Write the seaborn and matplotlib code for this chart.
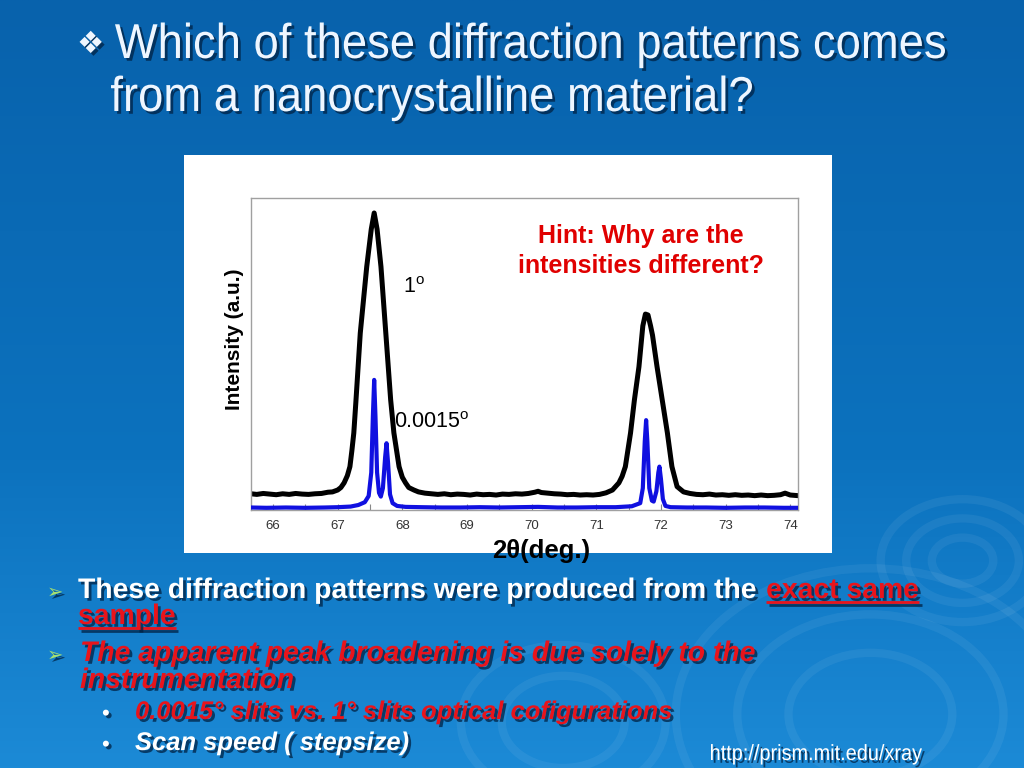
import numpy as np
import pandas as pd
import matplotlib
matplotlib.use("Agg")
import matplotlib.pyplot as plt
import matplotlib.patheffects as pe
import matplotlib.transforms as mtransforms
from matplotlib.patches import Rectangle, Circle, PathPatch
from matplotlib.textpath import TextPath
from matplotlib.font_manager import FontProperties
from matplotlib.ticker import MultipleLocator
from matplotlib import font_manager
import seaborn as sns

# ---------------- data ----------------
black_x = [65.66, 65.75, 65.85, 65.95, 66.05, 66.15, 66.25, 66.35, 66.45, 66.55, 66.65, 66.75, 66.85, 66.92,
           67.00, 67.05, 67.10, 67.15, 67.19, 67.22, 67.25, 67.28, 67.35, 67.45, 67.52, 67.565, 67.61, 67.67,
           67.745, 67.82, 67.87, 67.95, 68.00, 68.05, 68.10, 68.18, 68.25, 68.35, 68.45, 68.55, 68.65, 68.75,
           68.85, 68.95, 69.05, 69.15, 69.25, 69.35, 69.45, 69.55, 69.65, 69.75, 69.85, 69.95, 70.05, 70.10,
           70.15, 70.25, 70.35, 70.45, 70.55, 70.65, 70.75, 70.85, 70.95, 71.05, 71.15, 71.25, 71.35, 71.40,
           71.45, 71.53, 71.59, 71.66, 71.72, 71.76, 71.80, 71.84, 71.87, 71.94, 72.02, 72.10, 72.17, 72.25,
           72.35, 72.45, 72.55, 72.65, 72.75, 72.85, 72.95, 73.05, 73.15, 73.25, 73.35, 73.45, 73.55, 73.65,
           73.75, 73.85, 73.92, 74.00, 74.12]
black_y = [0.052, 0.050, 0.053, 0.051, 0.049, 0.052, 0.050, 0.053, 0.051, 0.050, 0.052, 0.053, 0.057, 0.058,
           0.064, 0.072, 0.087, 0.110, 0.139, 0.190, 0.247, 0.340, 0.567, 0.780, 0.900, 0.952, 0.900, 0.780,
           0.567, 0.353, 0.247, 0.139, 0.105, 0.087, 0.072, 0.064, 0.058, 0.054, 0.052, 0.050, 0.052, 0.049,
           0.051, 0.050, 0.048, 0.051, 0.049, 0.050, 0.048, 0.051, 0.050, 0.052, 0.051, 0.053, 0.057, 0.060,
           0.056, 0.054, 0.052, 0.051, 0.049, 0.050, 0.048, 0.049, 0.048, 0.050, 0.055, 0.064, 0.087, 0.108,
           0.139, 0.247, 0.353, 0.459, 0.590, 0.628, 0.625, 0.590, 0.560, 0.459, 0.353, 0.247, 0.139, 0.075,
           0.058, 0.053, 0.050, 0.049, 0.051, 0.048, 0.049, 0.047, 0.049, 0.047, 0.048, 0.046, 0.048, 0.046,
           0.047, 0.049, 0.054, 0.048, 0.046]

blue_x = [65.66, 65.9, 66.2, 66.5, 66.8, 67.0, 67.2, 67.32, 67.42, 67.48, 67.52, 67.545, 67.565, 67.585,
          67.61, 67.64, 67.668, 67.70, 67.735, 67.756, 67.78, 67.81, 67.85, 67.92, 68.05, 68.3, 68.6, 68.9,
          69.2, 69.5, 69.8, 70.1, 70.4, 70.7, 71.0, 71.3, 71.55, 71.68, 71.72, 71.75, 71.771, 71.79, 71.82,
          71.86, 71.888, 71.93, 71.96, 71.977, 72.0, 72.03, 72.07, 72.15, 72.4, 72.7, 73.0, 73.3, 73.6, 73.9,
          74.12]
blue_y = [0.008, 0.007, 0.008, 0.007, 0.008, 0.009, 0.011, 0.016, 0.025, 0.045, 0.120, 0.300, 0.417, 0.300,
          0.120, 0.055, 0.043, 0.070, 0.170, 0.214, 0.150, 0.050, 0.022, 0.013, 0.010, 0.009, 0.008, 0.008,
          0.009, 0.008, 0.009, 0.010, 0.008, 0.008, 0.009, 0.009, 0.012, 0.022, 0.070, 0.220, 0.288, 0.220,
          0.070, 0.030, 0.027, 0.060, 0.120, 0.139, 0.100, 0.035, 0.013, 0.009, 0.008, 0.008, 0.007, 0.008,
          0.008, 0.007, 0.007]

x_tick_values = [66, 67, 68, 69, 70, 71, 72, 73, 74]
x_tick_labels = ["66", "67", "68", "69", "70", "71", "72", "73", "74"]

title_lines = ["Which of these diffraction patterns comes", "from a nanocrystalline material?"]
hint_text = "Hint: Why are the\nintensities different?"

# ---------------- style ----------------
sns.set_theme(style="white")
names = {f.name for f in font_manager.fontManager.ttflist}
SANS = "Liberation Sans" if "Liberation Sans" in names else "DejaVu Sans"
plt.rcParams["font.family"] = [SANS, "DejaVu Sans"]
plt.rcParams["mathtext.fontset"] = "custom"
plt.rcParams["mathtext.rm"] = SANS
plt.rcParams["mathtext.it"] = SANS + ":italic"
plt.rcParams["mathtext.bf"] = SANS + ":bold"

W, H = 1024, 768
fig = plt.figure(figsize=(W / 100, H / 100), dpi=100)


def fx(px):
    return px / W


def fy(py):
    return 1 - py / H


shadow = [pe.SimplePatchShadow(offset=(2, -2), shadow_rgbFace="#002244", alpha=0.75), pe.Normal()]
to_fig = mtransforms.Affine2D().scale(1 / W, 1 / H) + fig.transFigure


def narrow_text(x_px, base_px, s, size_px, color, target_w, weight="normal"):
    """Condensed text (like Arial Narrow) drawn as a horizontally squeezed text path."""
    fp = FontProperties(family=SANS, weight=weight)
    tp = TextPath((0, 0), s, size=size_px, prop=fp)
    ext = tp.get_extents()
    sx = target_w / (ext.x1 - ext.x0)
    tr = mtransforms.Affine2D().translate(-ext.x0, 0).scale(sx, 1).translate(x_px, H - base_px) + to_fig
    fig.add_artist(PathPatch(tp, transform=tr, fc=color, ec="none", lw=0, path_effects=shadow))


# background gradient
bg = fig.add_axes([0, 0, 1, 1], zorder=-10)
t = np.linspace(0, 1, 256)[:, None]
top = np.array([8, 98, 172]) / 255
mid = np.array([12, 114, 190]) / 255
bot = np.array([28, 138, 214]) / 255
grad = np.where(t < 0.6, top + (mid - top) * (t / 0.6), mid + (bot - mid) * ((t - 0.6) / 0.4))
img = np.repeat(grad[:, None, :], 4, axis=1)
bg.imshow(img, extent=[0, 1, 0, 1], aspect="auto", origin="upper")
for (cx, cy, r) in [(0.94, 0.27, 0.03), (0.94, 0.27, 0.055), (0.94, 0.27, 0.08),
                    (0.85, 0.07, 0.08), (0.85, 0.07, 0.13), (0.85, 0.07, 0.19),
                    (0.55, 0.06, 0.06), (0.55, 0.06, 0.10)]:
    bg.add_patch(Circle((cx, cy), r, transform=bg.transAxes, fill=False,
                        ec=(1, 1, 1, 0.06), lw=6))
bg.set_xlim(0, 1)
bg.set_ylim(0, 1)
bg.axis("off")

# white chart box
fig.patches.append(Rectangle((fx(184), fy(553)), fx(832) - fx(184), fy(155) - fy(553),
                             transform=fig.transFigure, fc="white", ec="none", zorder=-5))

# chart axes
ax = fig.add_axes([fx(251), fy(510), fx(798) - fx(251), fy(198) - fy(510)])
ax.set_facecolor("white")
df_black = pd.DataFrame({"two_theta": black_x, "intensity": black_y})
df_blue = pd.DataFrame({"two_theta": blue_x, "intensity": blue_y})
sns.lineplot(data=df_blue, x="two_theta", y="intensity", ax=ax, color="#1010e0", lw=3.0, sort=False,
             zorder=3)
sns.lineplot(data=df_black, x="two_theta", y="intensity", ax=ax, color="black", lw=3.6, sort=False,
             zorder=2)
ax.set_xlim(65.66, 74.12)
ax.set_ylim(0, 1)
ax.set_xticks(x_tick_values)
ax.set_xticklabels(x_tick_labels, fontsize=9.5, color="#333333")
ax.xaxis.set_minor_locator(MultipleLocator(0.5))
ax.tick_params(axis="x", which="both", direction="in", length=4, width=0.8, color="#888888",
               bottom=True, top=False, pad=7)
ax.set_yticks([])
ax.set_xlabel("")
ax.set_ylabel("")
for s in ax.spines.values():
    s.set_color("#a0a0a0")
    s.set_linewidth(1.0)

# annotations inside chart
fig.text(fx(403), fy(287), r"1$^{\mathrm{o}}$", fontsize=15.5, ha="left", va="center", color="black")
fig.text(fx(394), fy(422), r"0.0015$^{\mathrm{o}}$", fontsize=15.5, ha="left", va="center", color="black")
fig.text(fx(641), fy(251), hint_text, fontsize=18, fontweight="bold",
         color="#e00000", ha="center", va="center", linespacing=1.32)
fig.text(fx(235), fy(339), "Intensity (a.u.)", fontsize=15, fontweight="bold", rotation=90,
         ha="center", va="center", color="black")
fig.text(fx(541), fy(551), "2θ(deg.)", fontsize=18.5, fontweight="bold", ha="center", va="center",
         color="black")

# ---------------- slide text ----------------
fig.text(fx(77), fy(53), "❖", fontsize=22, color="#eef6ff", family=["DejaVu Sans"],
         ha="left", va="baseline", path_effects=shadow)
narrow_text(115, 58, title_lines[0], 49, "#eef6ff", 830)
narrow_text(111, 111, title_lines[1], 49, "#eef6ff", 641)

BFS = 20.4
RED = "#e8141b"
GREEN = "#a6e070"
fig.text(fx(47), fy(598), "➢", fontsize=14, color=GREEN, family=["DejaVu Sans"], ha="left",
         va="baseline", path_effects=shadow)
fig.text(fx(47), fy(661), "➢", fontsize=14, color=GREEN, family=["DejaVu Sans"], ha="left",
         va="baseline", path_effects=shadow)

t1 = fig.text(fx(78), fy(598), "These diffraction patterns were produced from the ", fontsize=BFS,
              fontweight="bold", color="white", ha="left", va="baseline", path_effects=shadow)
fig.canvas.draw()
r = fig.canvas.get_renderer()
bb1 = t1.get_window_extent(r)
t2 = fig.text(bb1.x1 / W, fy(598), "exact same", fontsize=BFS, fontweight="bold", color=RED,
              ha="left", va="baseline", path_effects=shadow)
t3 = fig.text(fx(78), fy(624), "sample", fontsize=BFS, fontweight="bold", color=RED,
              ha="left", va="baseline", path_effects=shadow)

fig.text(fx(80), fy(661), "The apparent peak broadening is due solely to the", fontsize=BFS,
         fontweight="bold", style="italic", color=RED, ha="left", va="baseline", path_effects=shadow)
fig.text(fx(80), fy(688), "instrumentation", fontsize=BFS, fontweight="bold", style="italic", color=RED,
         ha="left", va="baseline", path_effects=shadow)
fig.text(fx(102), fy(720), "•", fontsize=16, color="white", ha="left", va="baseline", path_effects=shadow)
fig.text(fx(102), fy(751), "•", fontsize=16, color="white", ha="left", va="baseline", path_effects=shadow)
fig.text(fx(135), fy(719), "0.0015° slits vs. 1° slits optical cofigurations", fontsize=18.4,
         fontweight="bold", style="italic", color=RED, ha="left", va="baseline", path_effects=shadow)
fig.text(fx(135), fy(750), "Scan speed ( stepsize)", fontsize=18.4, fontweight="bold", style="italic",
         color="white", ha="left", va="baseline", path_effects=shadow)
narrow_text(711, 760, "http://prism.mit.edu/xray", 22, "white", 211)

fig.canvas.draw()
for tt, base in [(t2, 598), (t3, 624)]:
    bb = tt.get_window_extent(r)
    for off, col, a in [((2.5, -2.5), "#002244", 0.75), ((0, 0), RED, 1.0)]:
        fig.add_artist(plt.Line2D([(bb.x0 + off[0]) / W, (bb.x1 + off[0]) / W],
                                  [fy(base + 4) + off[1] / H, fy(base + 4) + off[1] / H],
                                  transform=fig.transFigure, color=col, alpha=a, lw=2.0,
                                  solid_capstyle="butt"))

fig.savefig("out.png", dpi=100)
